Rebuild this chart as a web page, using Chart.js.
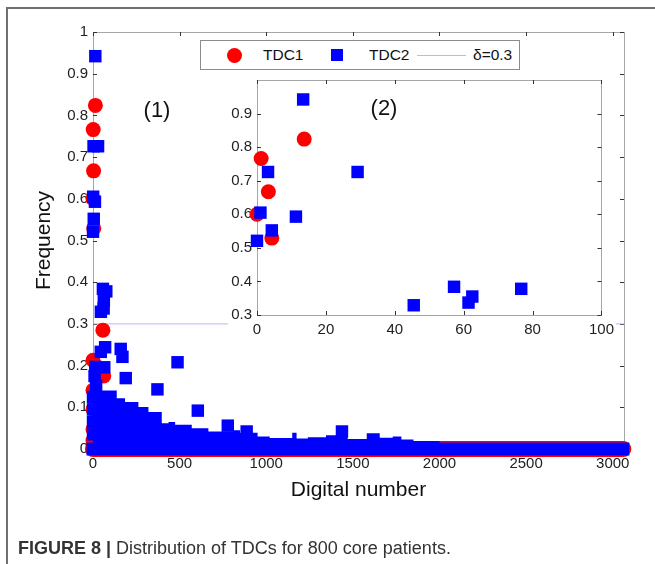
<!DOCTYPE html>
<html>
<head>
<meta charset="utf-8">
<script src="https://cdn.jsdelivr.net/npm/chart.js@4.4.1/dist/chart.umd.min.js"></script>
<style>
  html, body { margin: 0; padding: 0; background: #fff; }
  #wrap { position: relative; width: 655px; height: 564px; overflow: hidden; font-family: 'Liberation Sans', Arial, sans-serif; color: #222; }
  #frame { position: absolute; left: 6px; top: 7px; width: 720px; height: 620px; border-top: 2px solid #707070; border-left: 2px solid #707070; }
  canvas { position: absolute; display: block; }
  #main { left: 0; top: 0; width: 655px; height: 564px; }
  #inset { left: 220px; top: 64px; width: 400px; height: 284px; }
  #legend { position: absolute; left: 200px; top: 40px; width: 318px; height: 28px; border: 1px solid #8c8c8c; background: #fff; }
  #legend .txt { position: absolute; top: 0; line-height: 28px; font-size: 15.5px; color: #111; white-space: nowrap; }
  .dot { position: absolute; width: 15px; height: 15px; border-radius: 50%; background: #ff0000; }
  .sq { position: absolute; width: 12px; height: 12px; background: #0000ff; }
  .ln { position: absolute; height: 1px; background: #b8b8ff; }
  .lab { position: absolute; font-size: 22px; color: #111; transform: translate(-50%, -50%); white-space: nowrap; }
  #caption { position: absolute; left: 18px; top: 537px; font-size: 18px; line-height: 22px; color: #333; white-space: nowrap; }
</style>
</head>
<body>
<div id="wrap">
  <div id="frame"></div>
  <canvas id="main" width="655" height="564"></canvas>
  <canvas id="inset" width="400" height="284"></canvas>
  <div id="legend">
    <div class="dot" style="left:26px;top:7px;"></div>
    <div class="txt" style="left:62px;">TDC1</div>
    <div class="sq" style="left:130px;top:8px;"></div>
    <div class="txt" style="left:168px;">TDC2</div>
    <div class="ln" style="left:216px;top:14px;width:49px;"></div>
    <div class="txt" style="left:272px;">δ=0.3</div>
  </div>
  <div class="lab" style="left:157px;top:110px;">(1)</div>
  <div class="lab" style="left:384px;top:108px;">(2)</div>
  <div id="caption"><b>FIGURE 8 |</b> Distribution of TDCs for 800 core patients.</div>
</div>
<script>
// ---- tick labels ----
const xTicksMain = [0, 500, 1000, 1500, 2000, 2500, 3000];
const yTicksMain = [0, 0.1, 0.2, 0.3, 0.4, 0.5, 0.6, 0.7, 0.8, 0.9, 1];
const xTicksInset = [0, 20, 40, 60, 80, 100];
const yTicksInset = [0.3, 0.4, 0.5, 0.6, 0.7, 0.8, 0.9];

// ---- TDC1 (red circles): digital number / frequency ----
const tdc1X = [13.7, 1.2, 3.3, 0, 4.3, 57, 0, 62, 0, 38, 0, 0, 0];
const tdc1Y = [0.824, 0.766, 0.667, 0.60, 0.529, 0.285, 0.213, 0.175, 0.141, 0.12, 0.095, 0.047, 0.02];
// TDC1 frequencies close to zero over the whole digital-number range
const tdc1ZeroX = [0, 3061];
const tdc1ZeroY = [0, 0];

// ---- TDC2 (blue squares) ----
const tdc2X = [13.4, 3.2, 29.2, 1, 11.3, 4.3, 0, 45.5, 57.2, 61.4, 62.5, 76.7,
               70, 45, 160, 170, 488, 13, 65, 9, 189, 372, 18, 605, 778, 887, 1437,
               0, 0, 0, 0];
const tdc2Y = [0.942, 0.726, 0.726, 0.605, 0.593, 0.552, 0.521, 0.329, 0.384, 0.337, 0.355, 0.378,
               0.244, 0.233, 0.240, 0.221, 0.208, 0.197, 0.196, 0.175, 0.170, 0.143, 0.151, 0.092, 0.056, 0.042, 0.042,
               0.125, 0.095, 0.065, 0.035];
// upper edge of the dense mass of TDC2 squares (digital number, frequency)
const tdc2DenseX   = [0, 137, 185, 262, 320, 397, 436, 474, 570, 666, 811, 849, 950, 1020, 1150, 1175, 1240, 1345, 1470, 1580, 1655, 1730, 1780, 1850, 2000, 2075];
const tdc2DenseTop = [0.162, 0.14, 0.1215, 0.113, 0.101, 0.089, 0.062, 0.065, 0.058, 0.05, 0.042, 0.045, 0.039, 0.030, 0.0265, 0.039, 0.025, 0.028, 0.033, 0.024, 0.038, 0.027, 0.030, 0.023, 0.019, 0];
const tdc2ZeroX = [0, 3058];
const tdc2ZeroY = [0, 0];

// ---- threshold ----
const deltaX = [0, 3065];
const deltaY = [0.3, 0.3];

const FONT = "'Liberation Sans', Arial, sans-serif";
Chart.defaults.font.family = FONT;
Chart.defaults.color = '#222';

const pts = (xs, ys) => xs.map((x, i) => ({ x: x, y: ys[i] }));

const matlabBox = {
  id: 'matlabBox',
  beforeDraw(chart, args, opts) {
    if (opts && opts.bgLeft !== undefined) {
      const { ctx, width, height } = chart;
      ctx.save();
      ctx.fillStyle = '#fff';
      ctx.fillRect(opts.bgLeft, opts.bgTop, width - opts.bgLeft - opts.bgRight, height - opts.bgTop - opts.bgBottom);
      ctx.restore();
    }
  },
  beforeDatasetsDraw(chart) {
    const { ctx, chartArea: a, scales } = chart;
    const x = scales.x, y = scales.y, L = 4;
    ctx.save();
    ctx.strokeStyle = '#a6a6a6';
    ctx.lineWidth = 1;
    ctx.strokeRect(Math.round(a.left) + 0.5, Math.round(a.top) + 0.5, Math.round(a.right - a.left), Math.round(a.bottom - a.top));
    ctx.strokeStyle = '#333';
    ctx.beginPath();
    x.ticks.forEach(t => {
      const p = Math.round(x.getPixelForValue(t.value)) + 0.5;
      ctx.moveTo(p, a.bottom); ctx.lineTo(p, a.bottom - L);
      ctx.moveTo(p, a.top); ctx.lineTo(p, a.top + L);
    });
    y.ticks.forEach(t => {
      const p = Math.round(y.getPixelForValue(t.value)) + 0.5;
      ctx.moveTo(a.left, p); ctx.lineTo(a.left + L, p);
      ctx.moveTo(a.right, p); ctx.lineTo(a.right - L, p);
    });
    ctx.stroke();
    ctx.restore();
  }
};

function axis(min, max, ticksArr, pad, fit, extra) {
  return Object.assign({
    type: 'linear', min: min, max: max,
    grid: { display: false, drawTicks: false, tickLength: 0 }, border: { display: false },
    afterBuildTicks: s => { s.ticks = ticksArr.map(v => ({ value: v })); },
    ticks: { padding: pad, autoSkip: false, maxRotation: 0, color: '#222', font: { size: 15 }, callback: v => String(v) },
    afterFit: fit
  }, extra || {});
}

new Chart(document.getElementById('main'), {
  type: 'scatter',
  data: {
    datasets: [
      { label: 'TDC2', data: pts(tdc2X, tdc2Y), pointStyle: 'rect', pointRadius: 8.8, pointBorderWidth: 0,
        backgroundColor: '#0000ff', borderColor: '#0000ff', order: 1, clip: false },
      { label: 'TDC2 dense', data: pts(tdc2DenseX, tdc2DenseTop), showLine: true, stepped: 'after', fill: 'origin',
        pointRadius: 0, borderWidth: 0, borderColor: 'rgba(0,0,0,0)', backgroundColor: '#0000ff', order: 2 },
      { label: 'TDC2 zero', data: pts(tdc2ZeroX, tdc2ZeroY), showLine: true, borderWidth: 13, borderColor: '#0000ff',
        borderCapStyle: 'square', pointRadius: 0, order: 3, clip: false },
      { label: 'TDC1', data: pts(tdc1X, tdc1Y), pointStyle: 'circle', pointRadius: 7.5, pointBorderWidth: 0,
        backgroundColor: '#ff0000', borderColor: '#ff0000', order: 4, clip: false },
      { label: 'TDC1 zero', data: pts(tdc1ZeroX, tdc1ZeroY), showLine: true, borderWidth: 16, borderColor: '#ff0000',
        borderCapStyle: 'round', pointRadius: 0, order: 5, clip: false },
      { label: 'δ=0.3', data: pts(deltaX, deltaY), showLine: true, borderWidth: 1, borderColor: '#b8b8ff',
        pointRadius: 0, order: 6 }
    ]
  },
  options: {
    responsive: false, maintainAspectRatio: false, animation: false, devicePixelRatio: 1,
    layout: { padding: { left: 32, top: 32, right: 31, bottom: 61 } },
    plugins: { legend: { display: false }, tooltip: { enabled: false } },
    scales: {
      x: axis(0, 3065, xTicksMain, 6, s => { s.height = 54; },
        { title: { display: true, text: 'Digital number', font: { size: 21 }, color: '#111', padding: 0 } }),
      y: axis(0, 1, yTicksMain, 5, s => { s.width = 61; },
        { title: { display: true, text: 'Frequency', font: { size: 21 }, color: '#111', padding: 0 } })
    }
  },
  plugins: [matlabBox]
});

const inX1 = tdc1X.filter((x, i) => x <= 100 && tdc1Y[i] >= 0.3);
const inY1 = tdc1Y.filter((y, i) => tdc1X[i] <= 100 && y >= 0.3);
const inX2 = tdc2X.filter((x, i) => x <= 100 && tdc2Y[i] >= 0.3);
const inY2 = tdc2Y.filter((y, i) => tdc2X[i] <= 100 && y >= 0.3);

new Chart(document.getElementById('inset'), {
  type: 'scatter',
  data: {
    datasets: [
      { label: 'TDC2', data: pts(inX2, inY2), pointStyle: 'rect', pointRadius: 8.8, pointBorderWidth: 0,
        backgroundColor: '#0000ff', borderColor: '#0000ff', order: 1, clip: false },
      { label: 'TDC1', data: pts(inX1, inY1), pointStyle: 'circle', pointRadius: 7.5, pointBorderWidth: 0,
        backgroundColor: '#ff0000', borderColor: '#ff0000', order: 2, clip: false }
    ]
  },
  options: {
    responsive: false, maintainAspectRatio: false, animation: false, devicePixelRatio: 1,
    layout: { padding: { left: 6, top: 16, right: 13, bottom: 11 } },
    plugins: { legend: { display: false }, tooltip: { enabled: false },
      matlabBox: { bgLeft: 8, bgTop: 8, bgRight: 4, bgBottom: 6 } },
    scales: {
      x: axis(0, 100, xTicksInset, 6, s => { s.height = 22; }),
      y: axis(0.3, 1.0, yTicksInset, 5, s => { s.width = 31; })
    }
  },
  plugins: [matlabBox]
});
</script>
</body>
</html>
